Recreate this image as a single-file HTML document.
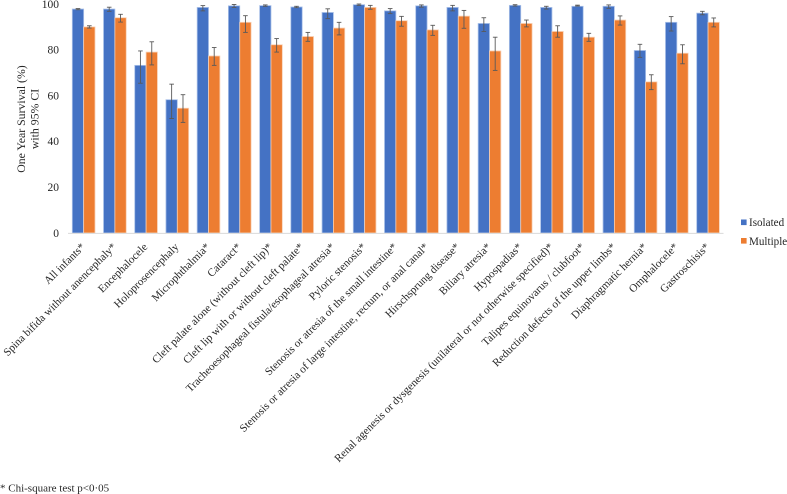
<!DOCTYPE html>
<html>
<head>
<meta charset="utf-8">
<style>
html,body{margin:0;padding:0;background:#fff;width:787px;height:494px;overflow:hidden}
svg{display:block;filter:blur(0.35px)}
text{font-family:"Liberation Serif",serif;fill:#262626}
</style>
</head>
<body>
<svg id="chart" width="787" height="494" viewBox="0 0 787 494" xmlns="http://www.w3.org/2000/svg">
  <g id="bars"></g>
  <line x1="68" x2="723.5" y1="233.4" y2="233.4" stroke="#d9d9d9" stroke-width="1"/>
  <g id="errs"></g>
  <g id="yticks"></g>
  <g id="xlabels"></g>
  <text font-size="11.8" text-anchor="middle" transform="translate(25,119) rotate(-90)"><tspan x="0" dy="0">One Year Survival (%)</tspan><tspan x="0" dy="13.5">with 95% CI</tspan></text>
  <g>
    <rect x="741" y="219.5" width="5.6" height="5.6" fill="#4472c4"/>
    <text x="749" y="226" font-size="11.1">Isolated</text>
    <rect x="741" y="238" width="5.6" height="5.6" fill="#ed7d31"/>
    <text x="749" y="245" font-size="11.1">Multiple</text>
  </g>
  <text x="0" y="491.5" font-size="11">* Chi-square test p&lt;0·05</text>
</svg>
<script>
const categories = ["All infants*","Spina bifida without anencephaly*","Encephalocele","Holoprosencephaly","Microphthalmia*","Cataract*","Cleft palate alone (without cleft lip)*","Cleft lip with or without cleft palate*","Tracheoesophageal fistula/esophageal atresia*","Pyloric stenosis*","Stenosis or atresia of the small intestine*","Stenosis or atresia of large intestine, rectum, or anal canal*","Hirschsprung disease*","Biliary atresia*","Hypospadias*","Renal agenesis or dysgenesis (unilateral or not otherwise specified)*","Talipes equinovarus / clubfoot*","Reduction defects of the upper limbs*","Diaphragmatic hernia*","Omphalocele*","Gastroschisis*"];
const isolated = [97.8,97.8,73.2,58.2,98.5,99.2,99.3,98.7,96.3,99.7,97,99.2,98.5,91.5,99.4,98.5,99,99,79.7,92,96];
const isolatedLow = [97.5,96.8,65.4,50,97,98.5,99,98.4,93.6,99.4,95.8,98.6,97,88,99.1,97.8,99.1,98.1,76.7,88.2,95.3];
const isolatedHigh = [98,98.6,79.5,65,99.3,99.8,99.6,99,97.9,100,98,99.6,99.4,94,99.7,99,99.5,99.6,82.4,94.5,96.8];
const multiple = [90,94,79,54.5,77.3,92,82.2,85.8,89.5,98.5,92.7,88.7,94.7,79.5,91.5,88,85.5,93,66,78.5,92];
const multipleLow = [89.5,92.1,73.4,48.3,73.2,87.6,79,83.7,86.5,97.7,90.3,86.3,89.4,71,90,85.5,83.7,90.8,62.6,73.9,90];
const multipleHigh = [90.5,95.5,83.5,60.4,81,94.9,84.9,87.6,92,99.4,94.6,90.7,97.2,85.5,93,90.5,87.2,94.8,69.1,82.2,93.9];
const yTickValues = [0,20,40,60,80,100];

const NS = "http://www.w3.org/2000/svg";
const plotY0 = 233, plotPxPerUnit = 2.29, groupX0 = 72.3, groupStep = 31.22, barW = 11.35;
function yScale(v){ return plotY0 - v * plotPxPerUnit; }
function groupX(i){ return groupX0 + i * groupStep; }
function mk(tag, attrs, parent){
  const el = document.createElementNS(NS, tag);
  for (const k in attrs) el.setAttribute(k, attrs[k]);
  parent.appendChild(el);
  return el;
}
const barsG = document.getElementById('bars');
const errsG = document.getElementById('errs');
const ticksG = document.getElementById('yticks');
const labelsG = document.getElementById('xlabels');

function drawBar(x, v, fill, halo, name){
  const r = mk('rect', {x:x, y:yScale(v), width:barW, height:plotY0 - yScale(v), fill:fill, stroke:halo, 'stroke-width':0.8}, barsG);
  
  
}
function drawErr(cx, lo, hi, name){
  const g = mk('g', {stroke:'#595959', 'stroke-width':0.9, fill:'none'}, errsG);
  
  
  mk('line', {x1:cx, x2:cx, y1:yScale(hi), y2:yScale(lo)}, g);
  mk('line', {x1:cx-2.3, x2:cx+2.3, y1:yScale(hi), y2:yScale(hi)}, g);
  mk('line', {x1:cx-2.3, x2:cx+2.3, y1:yScale(lo), y2:yScale(lo)}, g);
}
categories.forEach(function(c, i){
  const x = groupX(i);
  drawBar(x, isolated[i], '#4472c4', '#a9c0e8', 'bar-isolated');
  drawBar(x + barW, multiple[i], '#ed7d31', '#f8d0b4', 'bar-multiple');
  drawErr(x + barW * 0.5, isolatedLow[i], isolatedHigh[i], 'error-bar-isolated');
  drawErr(x + barW * 1.5, multipleLow[i], multipleHigh[i], 'error-bar-multiple');
  const ax = x + barW + 2, ay = 247.5;
  const t = mk('text', {'font-size':11.1, 'text-anchor':'end', transform:'translate(' + ax + ',' + ay + ') rotate(-45)'}, labelsG);
  t.textContent = c;
  
  
});
yTickValues.forEach(function(v){
  const t = mk('text', {x:59, y:yScale(v) + 3.8, 'font-size':11.5, 'text-anchor':'end'}, ticksG);
  t.textContent = v;
  
  
});
</script>
</body>
</html>
